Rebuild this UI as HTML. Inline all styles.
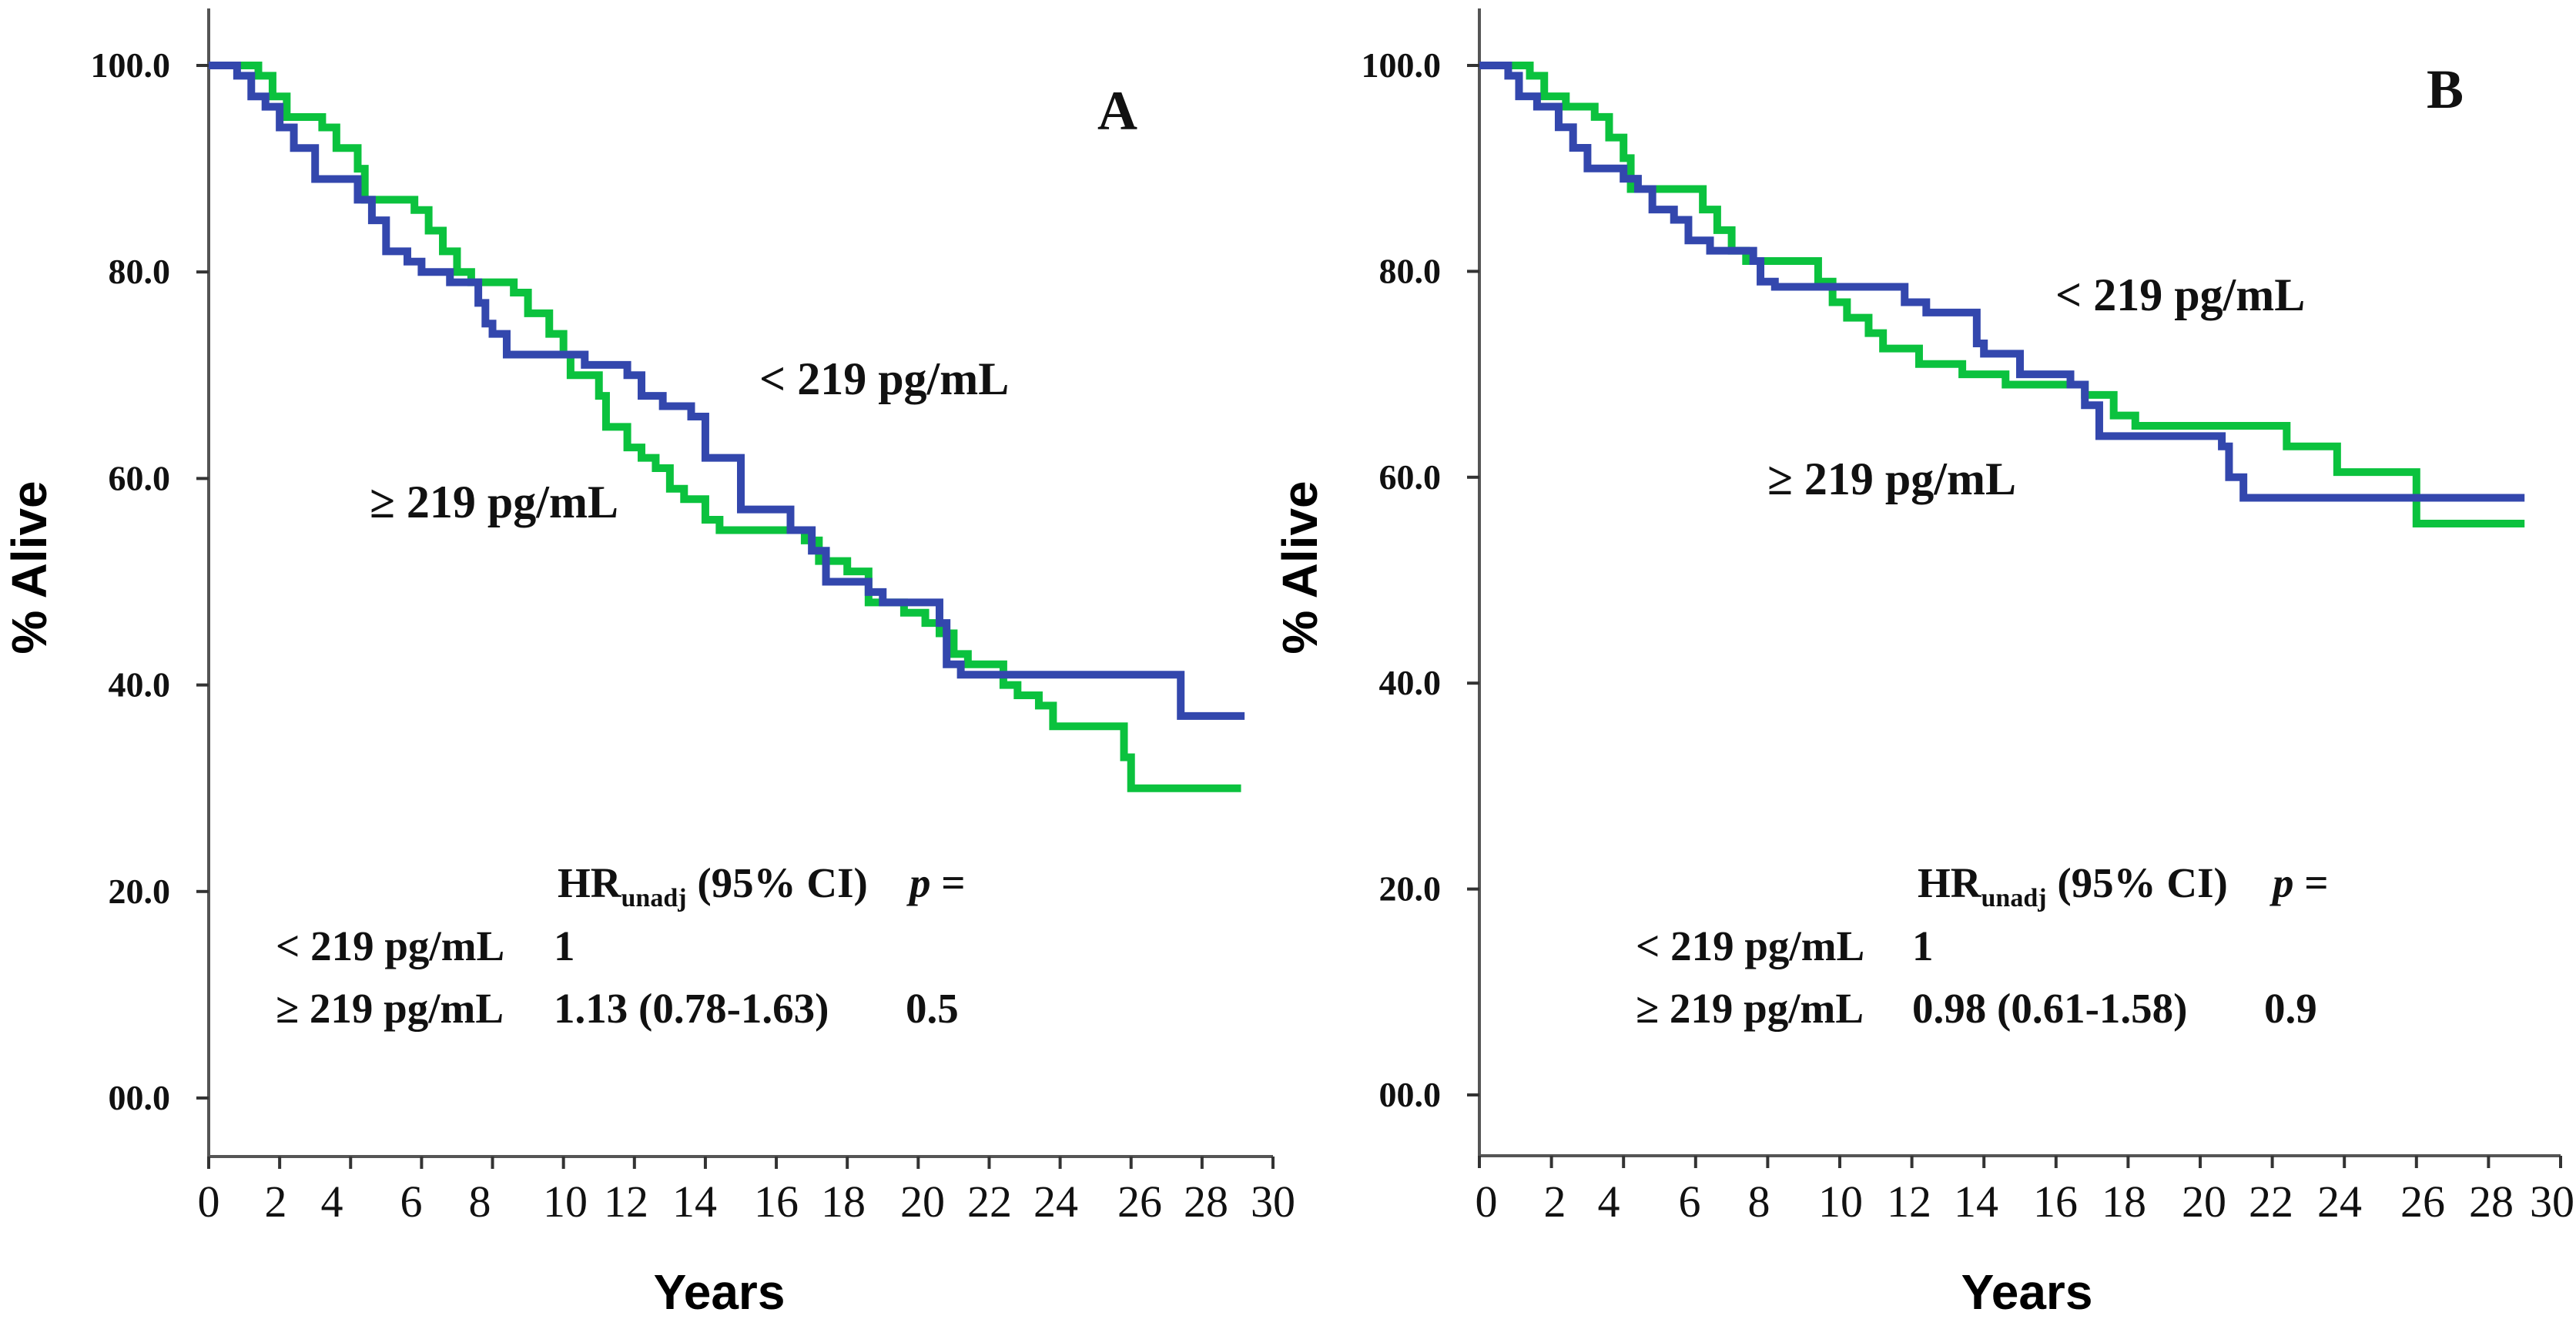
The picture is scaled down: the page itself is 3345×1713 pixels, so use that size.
<!DOCTYPE html>
<html><head><meta charset="utf-8"><style>
html,body{margin:0;padding:0;background:#fff;}
svg{display:block}
.tk{font-family:"Liberation Serif",serif;font-weight:bold;font-size:46px;fill:#111}
.xt{font-family:"Liberation Serif",serif;font-size:58px;fill:#111}
.an{font-family:"Liberation Serif",serif;font-weight:bold;font-size:60px;fill:#111}
.tb{font-family:"Liberation Serif",serif;font-weight:bold;font-size:55px;fill:#111}
.ti{font-family:"Liberation Sans",sans-serif;font-weight:bold;font-size:64px;fill:#000}
</style></head><body>
<svg id="c" width="3345" height="1713" viewBox="0 0 3345 1713" xmlns="http://www.w3.org/2000/svg">
<g>
<text class="an" x="1425" y="168" style="font-size:72px">A</text>
<text class="an" x="986" y="512">&lt; 219 pg/mL</text>
<text class="an" x="480" y="672">≥ 219 pg/mL</text>
<text class="tb" x="724" y="1165">HR<tspan font-size="34" dy="12">unadj</tspan><tspan dy="-12"> (95% CI)</tspan></text>
<text class="tb" x="1181" y="1165"><tspan font-style="italic">p</tspan> =</text>
<text class="tb" x="358" y="1247">&lt; 219 pg/mL</text>
<text class="tb" x="719" y="1247">1</text>
<text class="tb" x="358" y="1328">≥ 219 pg/mL</text>
<text class="tb" x="719" y="1328">1.13 (0.78-1.63)</text>
<text class="tb" x="1176" y="1328">0.5</text>
<text class="ti" transform="translate(60,737) rotate(-90)" text-anchor="middle">% Alive</text>
<text class="ti" x="934" y="1700" text-anchor="middle">Years</text>
</g>
<g>
<text class="an" x="3151" y="140" style="font-size:72px">B</text>
<text class="an" x="2669" y="403">&lt; 219 pg/mL</text>
<text class="an" x="2295" y="642">≥ 219 pg/mL</text>
<text class="tb" x="2490" y="1165">HR<tspan font-size="34" dy="12">unadj</tspan><tspan dy="-12"> (95% CI)</tspan></text>
<text class="tb" x="2951" y="1165"><tspan font-style="italic">p</tspan> =</text>
<text class="tb" x="2124" y="1247">&lt; 219 pg/mL</text>
<text class="tb" x="2483" y="1247">1</text>
<text class="tb" x="2124" y="1328">≥ 219 pg/mL</text>
<text class="tb" x="2483" y="1328">0.98 (0.61-1.58)</text>
<text class="tb" x="2940" y="1328">0.9</text>
<text class="ti" transform="translate(1710,737) rotate(-90)" text-anchor="middle">% Alive</text>
<text class="ti" x="2632" y="1700" text-anchor="middle">Years</text>
</g>
</svg>
<script>
const yTicks=[100,80,60,40,20,0];
const yTickLabels=["100.0","80.0","60.0","40.0","20.0","00.0"];
const xTicks=[0,2,4,6,8,10,12,14,16,18,20,22,24,26,28,30];
const blueAYears=[0,0.8,1.2,1.6,2.0,2.4,3.0,4.2,4.6,5.0,5.6,6.0,6.8,7.6,7.8,8.0,8.4,10.6,11.8,12.2,12.8,13.6,14.0,15.0,16.4,17.0,17.4,18.6,19.0,20.6,20.8,21.2,27.4,29.2];
const blueAVals=[100,99,97,96,94,92,89,87,85,82,81,80,79,77,75,74,72,71,70,68,67,66,62,57,55,53,50,49,48,46,42,41,37,37];
const greenAYears=[0,1.4,1.8,2.2,3.2,3.6,4.2,4.4,5.8,6.2,6.6,7.0,7.4,8.6,9.0,9.6,10.0,10.2,11.0,11.2,11.8,12.2,12.6,13.0,13.4,14.0,14.4,16.8,17.2,18.0,18.6,19.6,20.2,20.6,21.0,21.4,22.4,22.8,23.4,23.8,25.8,26.0,29.1];
const greenAVals=[100,99,97,95,94,92,90,87,86,84,82,80,79,78,76,74,72,70,68,65,63,62,61,59,58,56,55,54,52,51,48,47,46,45,43,42,40,39,38,36,33,30,30];
const blueBYears=[0,0.8,1.1,1.6,2.2,2.6,3.0,4.0,4.4,4.8,5.4,5.8,6.4,7.6,7.8,8.2,11.8,12.4,13.8,14.0,15.0,16.4,16.8,17.2,20.6,20.8,21.2,29.0];
const blueBVals=[100,99,97,96,94,92,90,89,88,86,85,83,82,81,79,78.5,77,76,73,72,70,69,67,64,63,60,58,58];
const greenBYears=[0,1.4,1.8,2.4,3.2,3.6,4.0,4.2,6.2,6.6,7.0,7.4,9.4,9.8,10.2,10.8,11.2,12.2,13.4,14.6,16.8,17.6,18.2,22.4,23.8,26.0,29.0];
const greenBVals=[100,99,97,96,95,93,91,88,86,84,82,81,79,77,75.5,74,72.5,71,70,69,68,66,65,63,60.5,55.5,55.5];
const xLabelPosA=[271,358,431,534,623,734,813,902,1008,1095,1198,1285,1371,1480,1566,1653];
const xLabelPosB=[1930,2019,2089,2194,2284,2390,2479,2566,2669,2758,2862,2949,3038,3146,3235,3314];
const NS="http://www.w3.org/2000/svg";
const svg=document.getElementById('c');
function mk(t,a){const e=document.createElementNS(NS,t);for(const k in a)e.setAttribute(k,a[k]);svg.appendChild(e);return e;}
function panel(p,id,labelPos){
  const X=v=>p.x0+(v/30)*(p.x1-p.x0);
  const Yf=v=>p.y0-(v/100)*(p.y0-p.y100);
  let e=mk('line',{x1:p.x0,y1:p.top,x2:p.x0,y2:p.xa,stroke:'#555','stroke-width':4});
  
  
  e=mk('line',{x1:p.x0,y1:p.xa,x2:p.x1,y2:p.xa,stroke:'#555','stroke-width':4});
  
  
  yTicks.forEach((v,i)=>{
    const l=mk('line',{x1:p.x0-16,y1:Yf(v),x2:p.x0,y2:Yf(v),stroke:'#333','stroke-width':4});
    
    
    const t=mk('text',{x:p.x0-50,y:Yf(v)+15,'text-anchor':'end',class:'tk'});
    t.textContent=yTickLabels[i];
    
    
  });
  xTicks.forEach((v,i)=>{
    const l=mk('line',{x1:X(v),y1:p.xa,x2:X(v),y2:p.xa+16,stroke:'#333','stroke-width':4});
    
    
    const t=mk('text',{x:labelPos[i],y:1580,'text-anchor':'middle',class:'xt'});
    t.textContent=String(v);
    
    
  });
  const step=(xs,vs,col,name)=>{
    let d='M'+X(xs[0])+' '+Yf(vs[0]);
    for(let i=1;i<xs.length;i++){d+=' H'+X(xs[i])+' V'+Yf(vs[i]);}
    const pa=mk('path',{d:d,fill:'none',stroke:col,'stroke-width':10,'stroke-linejoin':'miter'});
    
    
  };
  step(p.gx,p.gv,'#0bc23e','survival-curve-high-'+id);
  step(p.bx,p.bv,'#3347ad','survival-curve-low-'+id);
}
panel({x0:271,x1:1653,y0:1426,y100:85,xa:1502,top:11,bx:blueAYears,bv:blueAVals,gx:greenAYears,gv:greenAVals},'a',xLabelPosA);
panel({x0:1921,x1:3325,y0:1422,y100:85,xa:1501,top:11,bx:blueBYears,bv:blueBVals,gx:greenBYears,gv:greenBVals},'b',xLabelPosB);
</script>
</body></html>
